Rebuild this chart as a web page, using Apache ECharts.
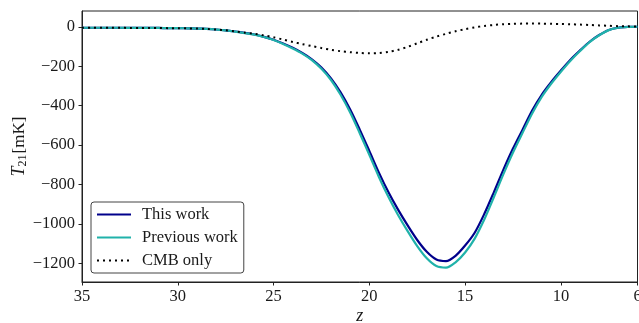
<!DOCTYPE html>
<html>
<head>
<meta charset="utf-8">
<script src="https://cdn.jsdelivr.net/npm/echarts@6/dist/echarts.min.js"></script>
<style>
html,body{margin:0;padding:0;background:#fff;}
#chart{width:639px;height:323px;}
</style>
</head>
<body>
<div id="chart"></div>
<script>
// redshift samples
const zValues = [35,34.5,34,33.5,33,32.5,32,31.5,31,30.5,30,29.5,29,28.5,28,27.5,27,26.5,26,25.5,25,24.5,24,23.5,23,22.5,22,21.5,21,20.5,20,19.5,19,18.5,18,17.5,17,16.5,16,15.5,15,14.5,14,13.5,13,12.5,12,11.5,11,10.5,10,9.5,9,8.5,8,7.5,7,6.5,6];
// T21 [mK]
const thisWork = [-5,-5,-5,-5,-5,-6,-6,-6,-6,-7,-7,-8,-9,-11,-14,-18,-24,-31,-39,-51,-66,-85,-107,-133,-165,-207,-262,-333,-420,-522,-630,-740,-840,-928,-1008,-1082,-1142,-1181,-1189,-1162,-1110,-1045,-950,-840,-725,-618,-522,-425,-345,-280,-222,-167,-120,-76,-42,-16,-5,-1,0];
const prevWork = [-5,-5,-5,-5,-5,-6,-6,-6,-6,-7,-7,-8,-9,-11,-14,-18,-25,-32,-40,-52,-67,-87,-110,-136,-169,-213,-270,-345,-435,-540,-650,-762,-864,-955,-1037,-1113,-1175,-1214,-1222,-1195,-1145,-1075,-978,-865,-748,-638,-538,-440,-356,-288,-228,-172,-123,-78,-43,-17,-5,-1,0];
const cmbOnly = [-5,-5,-5,-5,-5,-6,-6,-6,-6,-7,-7,-8,-9,-11,-14,-18,-24,-30,-36,-44,-53,-65,-77,-88,-98,-108,-117,-124,-129,-133,-135,-133,-127,-117,-102,-84,-66,-50,-36,-23,-12,-3,4,9,13,15,16,16,16,15,14,13,11,9,7,5,3,2,1];
const xTickLabels = [35,30,25,20,15,10,6];
const yTickLabels = [0,-200,-400,-600,-800,-1000,-1200];
const seriesNames = ['This work','Previous work','CMB only'];

const pairs = (xs, ys) => xs.map((x, i) => [x, ys[i]]);
const font = '"Liberation Serif", "DejaVu Serif", serif';
const txt = '#1a1a1a';
const minus = v => String(v).replace('-', '\u2212');

const chart = echarts.init(document.getElementById('chart'), null, {renderer: 'canvas'});
chart.setOption({
  animation: false,
  backgroundColor: '#fff',
  grid: {left: 82, right: 1.5, top: 11, bottom: 41, show: true, borderColor: '#222', borderWidth: 1,
         containLabel: false, outerBoundsMode: 'none'},
  xAxis: {
    type: 'value', min: 6, max: 35, inverse: true,
    name: 'z', nameLocation: 'middle', nameGap: 25, nameMoveOverlap: false,
    nameTextStyle: {fontFamily: font, fontStyle: 'italic', fontSize: 18, color: txt},
    axisLine: {show: true, onZero: false, lineStyle: {color: '#222', width: 1}},
    axisTick: {show: true, length: 3.5, lineStyle: {color: '#222'}, customValues: xTickLabels},
    axisLabel: {customValues: xTickLabels, fontFamily: font, fontSize: 16.5, color: txt, margin: 6, formatter: v => minus(v)},
    splitLine: {show: false}
  },
  yAxis: {
    type: 'value', min: -1295, max: 80,
    name: '{i|T}{s|21}{n|[mK]}', nameLocation: 'middle', nameGap: 53, nameRotate: 90, nameMoveOverlap: false,
    nameTextStyle: {
      fontFamily: font, fontSize: 17, color: txt,
      rich: {
        i: {fontFamily: font, fontStyle: 'italic', fontSize: 18, color: txt},
        s: {fontFamily: font, fontSize: 12, color: txt, verticalAlign: 'bottom', padding: [7, 1, 0, 0]},
        n: {fontFamily: font, fontSize: 17, color: txt}
      }
    },
    axisLine: {show: true, onZero: false, lineStyle: {color: '#222', width: 1}},
    axisTick: {show: true, length: 3.5, lineStyle: {color: '#222'}, customValues: yTickLabels},
    axisLabel: {customValues: yTickLabels, fontFamily: font, fontSize: 16.5, color: txt, margin: 7, formatter: v => minus(v)},
    splitLine: {show: false}
  },
  legend: {
    orient: 'vertical', left: 91, top: 202,
    padding: [4, 6, 4, 5], itemGap: 6, itemWidth: 34, itemHeight: 14,
    backgroundColor: '#fff', borderColor: '#444', borderWidth: 1, borderRadius: 3,
    itemStyle: {opacity: 0},
    textStyle: {fontFamily: font, fontSize: 16.5, color: txt, padding: [0, 0, 0, 6]},
    data: seriesNames
  },
  series: [
    {name: seriesNames[2], type: 'line', data: pairs(zValues, cmbOnly), showSymbol: false, symbol: 'none', smooth: 0.3, z: 3,
     lineStyle: {color: '#000', width: 2, type: [2, 4]}, itemStyle: {color: '#000'}},
    {name: seriesNames[1], type: 'line', data: pairs(zValues, prevWork), showSymbol: false, symbol: 'none', smooth: 0.3, z: 2,
     lineStyle: {color: '#20B2AA', width: 2.2}, itemStyle: {color: '#20B2AA'}},
    {name: seriesNames[0], type: 'line', data: pairs(zValues, thisWork), showSymbol: false, symbol: 'none', smooth: 0.3, z: 1,
     lineStyle: {color: '#00008B', width: 2.2}, itemStyle: {color: '#00008B'}}
  ]
});
</script>
</body>
</html>
